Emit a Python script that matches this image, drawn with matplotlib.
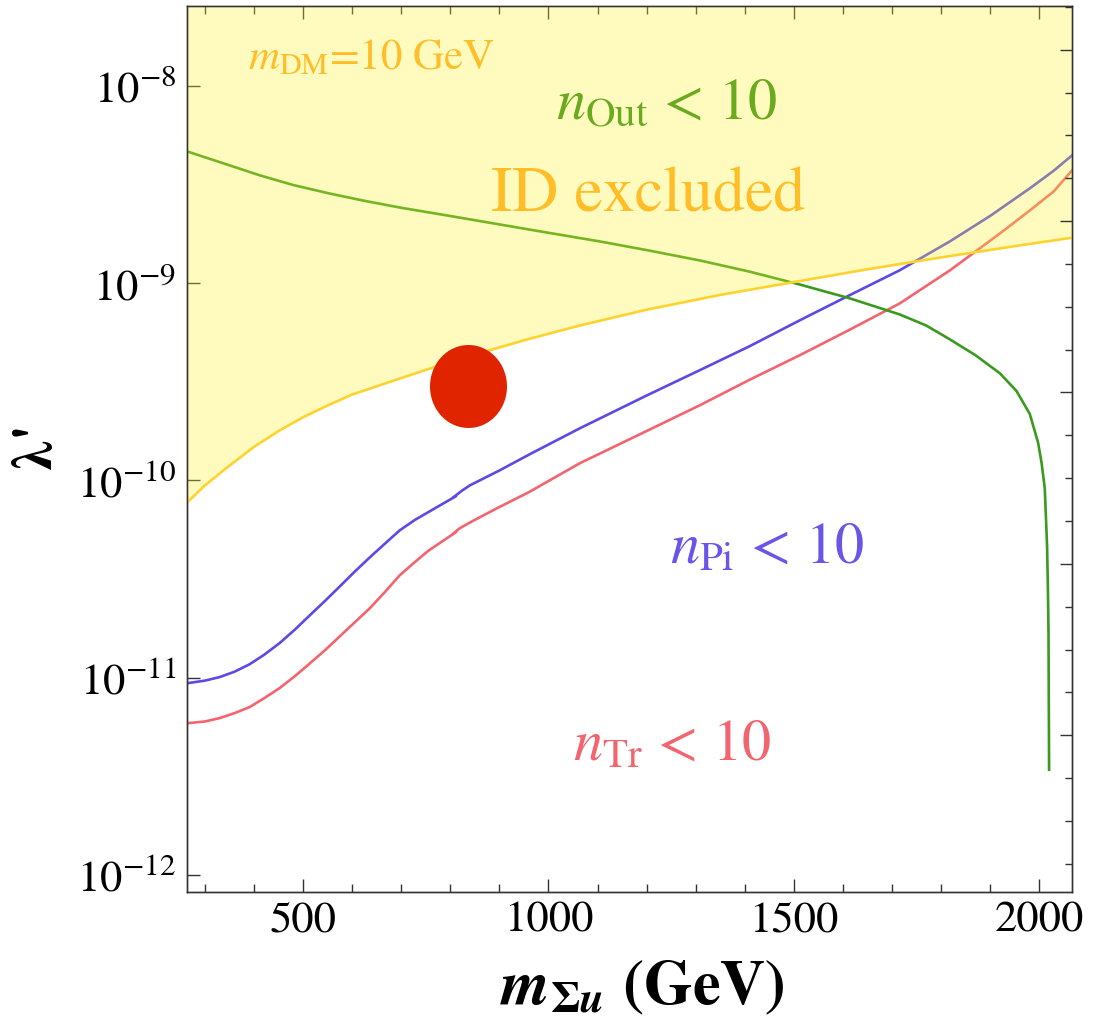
import numpy as np
import matplotlib
matplotlib.use('Agg')
import matplotlib.pyplot as plt
from matplotlib.path import Path
from matplotlib.ticker import FixedLocator, NullFormatter

plt.rcParams['font.family'] = 'STIXGeneral'
plt.rcParams['mathtext.fontset'] = 'stix'

# data: x = m_Sigma_u (GeV), y = log10(lambda')
# ID excluded boundary (m_DM = 10 GeV)
m_id = [264, 300, 350, 400, 450, 500, 550, 600, 656, 750, 840, 950, 1064, 1200, 1350, 1500, 1650, 1800,
        1950, 2067]
lg_id = [-10.111, -10.025, -9.925, -9.83, -9.75, -9.68, -9.62, -9.565, -9.518, -9.44, -9.37, -9.29, -9.215,
         -9.135, -9.06, -8.995, -8.93, -8.87, -8.813, -8.77]

# n_Pi < 10 (two branches overlapping near 810 GeV)
m_pi_a = [264, 300, 330, 360, 391, 420, 452, 483, 514, 545, 575, 605, 636, 667, 697, 728, 758, 785, 811]
lg_pi_a = [-11.028, -11.015, -10.997, -10.97, -10.932, -10.885, -10.825, -10.757, -10.683, -10.61, -10.537,
           -10.463, -10.39, -10.32, -10.253, -10.2, -10.157, -10.118, -10.081]
m_pi_b = [806, 825, 840, 900, 960, 1064, 1200, 1308, 1410, 1512, 1615, 1716, 1818, 1900, 1981, 2030, 2067]
lg_pi_b = [-10.086, -10.05, -10.025, -9.95, -9.87, -9.736, -9.57, -9.442, -9.32, -9.189, -9.06, -8.935,
           -8.789, -8.66, -8.52, -8.43, -8.353]

# n_Tr < 10
m_tr_a = [264, 300, 330, 360, 391, 420, 452, 483, 514, 545, 575, 605, 636, 667, 697, 725, 754, 783, 811]
lg_tr_a = [-11.231, -11.222, -11.205, -11.18, -11.149, -11.105, -11.053, -10.993, -10.927, -10.86, -10.79,
           -10.72, -10.648, -10.565, -10.481, -10.42, -10.359, -10.31, -10.263]
m_tr_b = [806, 819, 850, 900, 960, 1064, 1200, 1308, 1410, 1512, 1615, 1716, 1818, 1879, 1930, 1981, 2030,
          2067]
lg_tr_b = [-10.27, -10.243, -10.2, -10.135, -10.06, -9.913, -9.75, -9.62, -9.49, -9.366, -9.235, -9.103,
           -8.936, -8.824, -8.73, -8.632, -8.535, -8.429]

# n_Out < 10
m_out = [264, 340, 412, 480, 554, 625, 697, 800, 901, 1000, 1105, 1205, 1308, 1410, 1512, 1615, 1716, 1770,
         1818, 1870, 1920, 1954, 1981, 1998, 2005, 2011.6, 2016.3, 2018, 2019.2, 2020.4]
lg_out = [-8.333, -8.395, -8.454, -8.503, -8.546, -8.583, -8.617, -8.66, -8.703, -8.745, -8.789, -8.835,
          -8.885, -8.942, -9.007, -9.078, -9.159, -9.215, -9.285, -9.365, -9.457, -9.547, -9.663, -9.809,
          -9.91, -10.04, -10.332, -10.55, -10.769, -11.467]

# benchmark point
bench_m = [837]
bench_lam = [3.0e-10]

xlim = (264, 2067)
ylim = (10 ** -12.088, 10 ** -7.598)

c_pi = '#5b4ae6'
c_tr = '#f2646e'
c_out = '#3a9a1e'
c_id_line = '#ffd22e'
c_id_fill = (1.0, 0.96, 0.18)
c_id_text = '#ffbe28'

fig = plt.figure(figsize=(11, 10.25), dpi=100)
ax = fig.add_axes([0.1703, 0.12946, 0.9745 - 0.1703, 0.99366 - 0.12946])
ax.set_yscale('log')

lw = 1.9
ax.plot(m_pi_a, 10 ** np.array(lg_pi_a), color=c_pi, lw=lw, zorder=2)
ax.plot(m_pi_b, 10 ** np.array(lg_pi_b), color=c_pi, lw=lw, zorder=2)
ax.plot(m_tr_a, 10 ** np.array(lg_tr_a), color=c_tr, lw=lw, zorder=2)
ax.plot(m_tr_b, 10 ** np.array(lg_tr_b), color=c_tr, lw=lw, zorder=2)
ax.plot(m_out, 10 ** np.array(lg_out), color=c_out, lw=lw, zorder=2)

# translucent excluded region drawn over the lines
id_lam = 10 ** np.array(lg_id)
ax.fill_between(m_id, id_lam, ylim[1] * 2, color=c_id_fill, alpha=0.3, lw=0, zorder=3)
ax.plot(m_id, id_lam, color=c_id_line, lw=lw, zorder=4)

# slightly tall ellipse marker
t = np.linspace(0, 2 * np.pi, 80)
ell = Path(np.column_stack([0.5 * 77 / 83 * np.cos(t), 0.5 * np.sin(t)]))
ax.scatter(bench_m, bench_lam, marker=ell, s=(83 * 0.72) ** 2, color='#e02400', lw=0, zorder=5)

ax.set_xlim(*xlim)
ax.set_ylim(*ylim)

# ticks
ax.set_xticks([500, 1000, 1500, 2000])
ax.set_xticks([m for m in range(300, 2001, 100) if m % 500], minor=True)
ax.set_xticklabels(['500', '1000', '1500', '2000'])
ax.yaxis.set_major_locator(FixedLocator([1e-12, 1e-11, 1e-10, 1e-9, 1e-8]))
ax.yaxis.set_minor_locator(FixedLocator([]))
ax.set_yticklabels([r'$10^{-12}$', r'$10^{-11}$', r'$10^{-10}$', r'$10^{-9}$', r'$10^{-8}$'])
ax.tick_params(which='both', direction='in', top=True, bottom=True, left=True, right=False,
               color='#333333', width=1.0, labelsize=32)
ax.tick_params(which='major', length=9.4)
ax.tick_params(which='minor', length=5.8)
ax.tick_params(axis='x', pad=7)
ax.tick_params(axis='y', pad=8)

# right frame: ticks every 0.5 in natural log, longer every 2
twin = ax.twinx()
twin.set_yscale('log')
twin.set_ylim(*ylim)
twin.yaxis.set_major_locator(FixedLocator(np.exp(np.arange(-28, -16, 2.0))))
twin.yaxis.set_minor_locator(FixedLocator(np.exp(np.arange(-28, -17.0, 0.5))))
twin.yaxis.set_major_formatter(NullFormatter())
twin.yaxis.set_minor_formatter(NullFormatter())
twin.tick_params(which='both', direction='in', color='#333333', width=1.0)
twin.tick_params(which='major', length=8.9)
twin.tick_params(which='minor', length=5.3)

for a in (ax, twin):
    for sp in a.spines.values():
        sp.set_color('#333333')
        sp.set_linewidth(1.0)

# labels
ax.text(0.0686, 0.9292, r'$m_{\mathrm{DM}}$=10 GeV', transform=ax.transAxes, color=c_id_text,
        fontsize=31, ha='left', va='baseline', zorder=6)
ax.text(0.5423, 0.8727, r'$n_{\mathrm{Out}}$ < 10', transform=ax.transAxes, color='#6aaa1f',
        fontsize=42, ha='center', va='baseline', zorder=6)
ax.text(0.5213, 0.7687, 'ID excluded', transform=ax.transAxes, color=c_id_text,
        fontsize=46, ha='center', va='baseline', zorder=6)
ax.text(0.6553, 0.372, r'$n_{\mathrm{Pi}}$ < 10', transform=ax.transAxes, color='#6a55e8',
        fontsize=42, ha='center', va='baseline', zorder=6)
ax.text(0.5479, 0.1495, r'$n_{\mathrm{Tr}}$ < 10', transform=ax.transAxes, color='#f2646e',
        fontsize=42, ha='center', va='baseline', zorder=6)

ax.text(0.514, -0.1075, r'$\mathbfit{m}_{\mathbf{\Sigma}\mathbfit{u}}$ (GeV)', transform=ax.transAxes,
        fontsize=45, fontweight='bold', ha='center', va='center')
ax.text(-0.1688, 0.5032, "λ'", transform=ax.transAxes, fontsize=40, fontweight='bold',
        rotation=90, ha='center', va='center')

fig.savefig('out.png', dpi=100)
